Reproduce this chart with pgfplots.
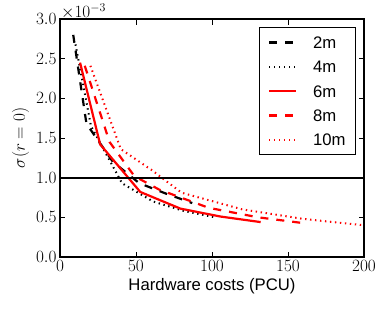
\documentclass[border=0pt]{standalone}
\usepackage{fontspec}
\setmainfont{Liberation Sans}
\usepackage{pgfplots}
\pgfplotsset{compat=1.18}
\newcommand\myfont{\fontsize{16.7bp}{20bp}\selectfont}
\begin{document}
\begin{tikzpicture}
\begin{axis}[
  at={(0,0)}, anchor=south west,
  scale only axis, width=304bp, height=238bp,
  xmin=0, xmax=200, ymin=0, ymax=3,
  xtick={0,50,100,150,200},
  ytick={0,0.5,1,1.5,2,2.5,3},
  scaled y ticks=false,
  yticklabel style={/pgf/number format/.cd,fixed,fixed zerofill,precision=1},
  tick align=inside,
  major tick length=5.5bp,
  axis line style={line width=1.2bp},
  every tick/.style={black, line width=0.8bp},
  tick label style={font=\myfont},
  label style={font=\myfont},
  xlabel={Hardware costs (PCU)},
  ylabel={$\sigma(r=0)$},
  legend style={font=\myfont, at={(0.974,0.966)}, anchor=north east,
    draw=black, line width=1bp, inner xsep=8bp, inner ysep=7bp,
    row sep=8.3bp,
    nodes={inner sep=2bp, text height=12bp, text depth=0bp},
    /tikz/every odd column/.append style={column sep=14bp}},
  legend cell align=left,
  legend image code/.code={\draw[#1] (0bp,0bp) -- (27bp,0bp);},
  clip=false,
]
\addplot[black, line width=2.2bp, dash pattern=on 8bp off 8bp] coordinates {
(8.7,2.80) (17.4,1.68) (34.8,1.20) (52.2,0.93) (69.6,0.80) (87,0.68)};
\addlegendentry{2m}
\addplot[black, line width=2bp, dash pattern=on 1.4bp off 3.6bp] coordinates {
(10.2,2.68) (20.4,1.65) (40.8,0.93) (61.2,0.70) (81.6,0.58) (102,0.50)};
\addlegendentry{4m}
\addplot[red, line width=2.2bp] coordinates {
(13.2,2.45) (26.4,1.42) (52.8,0.82) (79.2,0.61) (105.6,0.51) (132,0.44)};
\addlegendentry{6m}
\addplot[red, line width=2.2bp, dash pattern=on 8bp off 8bp] coordinates {
(16.3,2.41) (32.6,1.45) (48.9,1.02) (65.2,0.85) (97.8,0.62) (130.4,0.50) (163,0.42)};
\addlegendentry{8m}
\addplot[red, line width=2bp, dash pattern=on 1.4bp off 3.6bp] coordinates {
(20,2.41) (40,1.36) (60,1.10) (80,0.81) (120,0.60) (160,0.48) (200,0.40)};
\addlegendentry{10m}
\addplot[black, line width=2bp, forget plot] coordinates {(0,1) (200,1)};
\node[anchor=south west, inner sep=0pt, font=\myfont] at ([xshift=1bp,yshift=-0.5bp]rel axis cs:0,1) {$\times10^{-3}$};
\end{axis}
\pgfresetboundingbox
\path[use as bounding box] (-60bp,-53bp) rectangle (328bp,257bp);
\end{tikzpicture}
\end{document}
